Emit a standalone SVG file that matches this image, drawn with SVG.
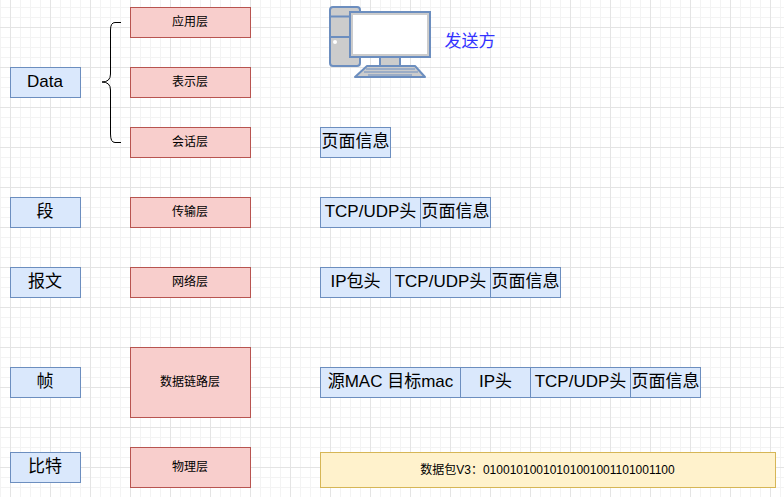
<svg xmlns="http://www.w3.org/2000/svg" width="784" height="497" viewBox="0 0 784 497">
<style>
text{font-family:"Liberation Sans","Noto Sans CJK SC",sans-serif;fill:#000;text-anchor:middle;dominant-baseline:central}
.b rect,rect.b{fill:#dae8fc;stroke:#6c8ebf}
.r rect{fill:#f8cecc;stroke:#b85450}
.big{font-size:17px}
.sm{font-size:12px}
.lab{font-size:17px}
.pc{stroke:#6c8ebf;stroke-width:2;fill:#ccc;stroke-linejoin:round}
</style>
<defs>
<pattern id="g" x="10" y="27" width="40" height="40" patternUnits="userSpaceOnUse">
<path d="M0 10.5H40M0 20.5H40M0 30.5H40M10.5 0V40M20.5 0V40M30.5 0V40" fill="none" stroke="#f3f3f3"/>
<path d="M0 .5H40M.5 0V40" fill="none" stroke="#e4e4e4"/>
</pattern>
</defs>
<rect width="784" height="497" fill="#fff"/>
<rect width="784" height="497" fill="url(#g)"/>
<g id="connectors">
<path d="M121 22.5H115Q110.500 22.500 110.500 30V74Q110.500 82 102 82Q110.500 82 110.500 90V134Q110.500 142.500 115 142.500H121" fill="none" stroke="#000"/>
</g>
<g id="n-data" class="b"><rect x="10.500" y="67.500" width="70" height="30"/><text x="45" y="81" class="lab">Data</text></g>
<g id="n-seg" class="b"><rect x="10.500" y="197.500" width="70" height="30"/><text x="45" y="211" class="lab">段</text></g>
<g id="n-msg" class="b"><rect x="10.500" y="267.500" width="70" height="30"/><text x="45" y="281" class="lab">报文</text></g>
<g id="n-frame" class="b"><rect x="10.500" y="367.500" width="70" height="30"/><text x="45" y="381" class="lab">帧</text></g>
<g id="n-bit" class="b"><rect x="10.500" y="452.500" width="70" height="30"/><text x="45" y="466" class="lab">比特</text></g>
<g id="l-app" class="r"><rect x="130.500" y="7.500" width="120" height="30"/><text x="190" y="22" class="sm">应用层</text></g>
<g id="l-pres" class="r"><rect x="130.500" y="67.500" width="120" height="30"/><text x="190" y="82" class="sm">表示层</text></g>
<g id="l-sess" class="r"><rect x="130.500" y="127.500" width="120" height="30"/><text x="190" y="142" class="sm">会话层</text></g>
<g id="l-trans" class="r"><rect x="130.500" y="197.500" width="120" height="30"/><text x="190" y="212" class="sm">传输层</text></g>
<g id="l-net" class="r"><rect x="130.500" y="267.500" width="120" height="30"/><text x="190" y="282" class="sm">网络层</text></g>
<g id="l-link" class="r"><rect x="130.500" y="347.500" width="120" height="70"/><text x="190" y="382" class="sm">数据链路层</text></g>
<g id="l-phy" class="r"><rect x="130.500" y="447.500" width="120" height="40"/><text x="190" y="467" class="sm">物理层</text></g>
<g id="computer">
<rect class="pc" x="330" y="7" width="30" height="59" rx="3"/>
<path class="pc" d="M330 16.500H350M330 37H350" fill="none"/>
<circle cx="335" cy="42" r="2" fill="#fff"/>
<rect x="380" y="57" width="20" height="9" class="pc"/>
<path class="pc" d="M355 77L367 66H415L425 77Z"/>
<path d="M366 69H415M364 72H418M368 75H412" stroke="#6c8ebf" stroke-width="1.200" fill="none"/>
<rect x="350" y="12" width="80" height="45" fill="#fff" stroke="#6c8ebf" stroke-width="2"/>
<rect x="352" y="14" width="76" height="41" fill="none" stroke="#ccc" stroke-width="2"/>
<text x="470" y="41" class="big" style="fill:#3333ff">发送方</text>
</g>
<g id="p1" class="b"><rect x="320.500" y="127.500" width="70" height="30"/><text x="355.500" y="141" class="big">页面信息</text></g>
<g id="p2" class="b">
<rect x="320.500" y="197.500" width="100" height="30"/><text x="370.500" y="211" class="big">TCP/UDP头</text>
<rect x="420.500" y="197.500" width="70" height="30"/><text x="455.500" y="211" class="big">页面信息</text></g>
<g id="p3" class="b">
<rect x="320.500" y="267.500" width="70" height="30"/><text x="355.500" y="281" class="big">IP包头</text>
<rect x="390.500" y="267.500" width="100" height="30"/><text x="440.500" y="281" class="big">TCP/UDP头</text>
<rect x="490.500" y="267.500" width="70" height="30"/><text x="525.500" y="281" class="big">页面信息</text></g>
<g id="p4" class="b">
<rect x="320.500" y="367.500" width="140" height="30"/><text x="390.500" y="381" class="big">源MAC 目标mac</text>
<rect x="460.500" y="367.500" width="70" height="30"/><text x="495.500" y="381" class="big">IP头</text>
<rect x="530.500" y="367.500" width="100" height="30"/><text x="580.500" y="381" class="big">TCP/UDP头</text>
<rect x="630.500" y="367.500" width="70" height="30"/><text x="665.500" y="381" class="big">页面信息</text></g>
<g id="packet"><rect x="320.500" y="452.500" width="455" height="35" fill="#fff2cc" stroke="#d6b656"/><text x="547.500" y="470" class="sm">数据包V3：01001010010101001001101001100</text></g>
</svg>
